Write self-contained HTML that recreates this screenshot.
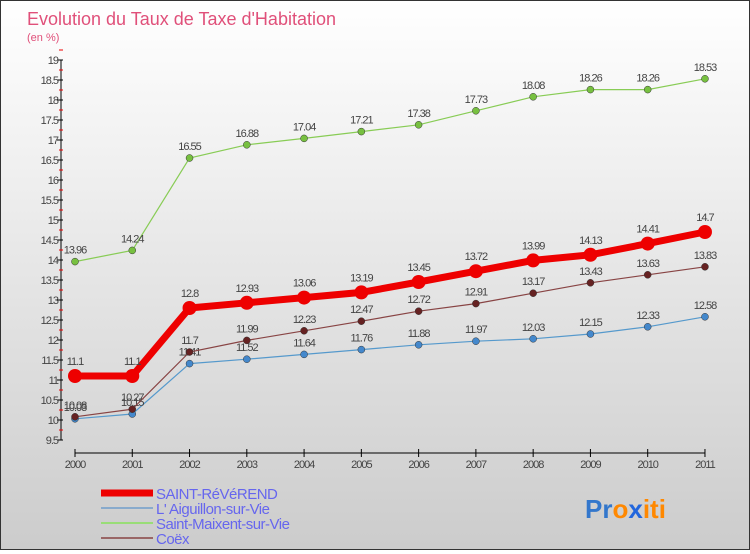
<!DOCTYPE html>
<html><head><meta charset="utf-8"><style>
body{margin:0;width:750px;height:550px;overflow:hidden;font-family:"Liberation Sans",sans-serif}
#wrap{position:relative;width:748px;height:548px;border:1px solid #333;background:linear-gradient(#fff,#fafafa 10%,#ccc)}
</style></head><body>
<div id="wrap">
<svg id="chart" width="748" height="548"></svg>
</div>
<script>
const years=[2000,2001,2002,2003,2004,2005,2006,2007,2008,2009,2010,2011];
const stRev=[11.1,11.1,12.8,12.93,13.06,13.19,13.45,13.72,13.99,14.13,14.41,14.7];
const aiguillon=[10.03,10.15,11.41,11.52,11.64,11.76,11.88,11.97,12.03,12.15,12.33,12.58];
const maixent=[13.96,14.24,16.55,16.88,17.04,17.21,17.38,17.73,18.08,18.26,18.26,18.53];
const coex=[10.08,10.27,11.7,11.99,12.23,12.47,12.72,12.91,13.17,13.43,13.63,13.83];
const yTicks=[9.5,10,10.5,11,11.5,12,12.5,13,13.5,14,14.5,15,15.5,16,16.5,17,17.5,18,18.5,19];
const names=["SAINT-RéVéREND","L' Aiguillon-sur-Vie","Saint-Maixent-sur-Vie","Coëx"];
const NS="http://www.w3.org/2000/svg";
const svg=document.getElementById('chart');
const X=i=>74+i*57.27;
const Y=v=>439-(v-9.5)*40;
function mk(t,a,p){const e=document.createElementNS(NS,t);for(const k in a)e.setAttribute(k,a[k]);(p||svg).appendChild(e);return e;}
let t=mk('text',{x:26,y:24,'font-size':18,fill:'#e0507a'});t.textContent="Evolution du Taux de Taxe d'Habitation";


t=mk('text',{x:26,y:40,'font-size':11,fill:'#e0507a'});t.textContent="(en %)";


let ax=mk('line',{x1:60,y1:Y(19),x2:60,y2:Y(9.5),stroke:'#000'});


yTicks.forEach(v=>{mk('line',{x1:56,x2:62,y1:Y(v),y2:Y(v),stroke:'#000'});
mk('line',{x1:58,x2:62,y1:Y(v+0.25),y2:Y(v+0.25),stroke:'#e00'});
const l=mk('text',{x:57,y:Y(v)+4,'font-size':11,'text-anchor':'end',fill:'#444','letter-spacing':'-1'});l.textContent=v;

});
ax=mk('line',{x1:X(0),x2:X(11),y1:452,y2:452,stroke:'#000'});


years.forEach((y,i)=>{mk('line',{x1:X(i),x2:X(i),y1:448,y2:456,stroke:'#000'});
const l=mk('text',{x:X(i),y:467,'font-size':11,'text-anchor':'middle',fill:'#444','letter-spacing':'-1'});l.textContent=y;

});
const series=[[maixent,'#88cc55','#77c040',1.2,3.5,'saint-maixent'],[aiguillon,'#5599cc','#4488cc',1.2,3.5,'aiguillon'],[coex,'#884444','#662222',1.2,3.5,'coex'],[stRev,'#ee0000','#ee0000',7,7,'saint-reverend']];
series.forEach(([d,c,fc,w,r,n])=>{
const g=mk('g',{});


mk('polyline',{points:d.map((v,i)=>X(i)+','+Y(v)).join(' '),fill:'none',stroke:c,'stroke-width':w},g);
d.forEach((v,i)=>{const p=mk('circle',{cx:X(i),cy:Y(v),r:r,fill:fc,stroke:r<5?'#333':'none','stroke-width':0.5},g);


const l=mk('text',{x:X(i),y:Y(v)-(r>5?11:8),'font-size':11,'text-anchor':'middle',fill:'#444','letter-spacing':'-1'},g);l.textContent=v;

});});
const lc=['#ee0000','#88aacc','#99dd77','#996666'],lw=[7,2,2,2];
names.forEach((nm,i)=>{const g=mk('g',{});


const y=492+i*15;
mk('line',{x1:100,x2:152,y1:y,y2:y,stroke:lc[i],'stroke-width':lw[i]},g);
const l=mk('text',{x:155,y:y+6,'font-size':15,fill:'#6666ee','letter-spacing':'-0.5'},g);l.textContent=nm;});
const lg=mk('text',{x:584,y:517,'font-size':26,'font-weight':'bold'});


[['Pr','#3377cc'],['o','#ff8800'],['x','#2266dd'],['iti','#ff8800']].forEach(([s,c])=>{const ts=mk('tspan',{fill:c},lg);ts.textContent=s;});
</script>
</body></html>
